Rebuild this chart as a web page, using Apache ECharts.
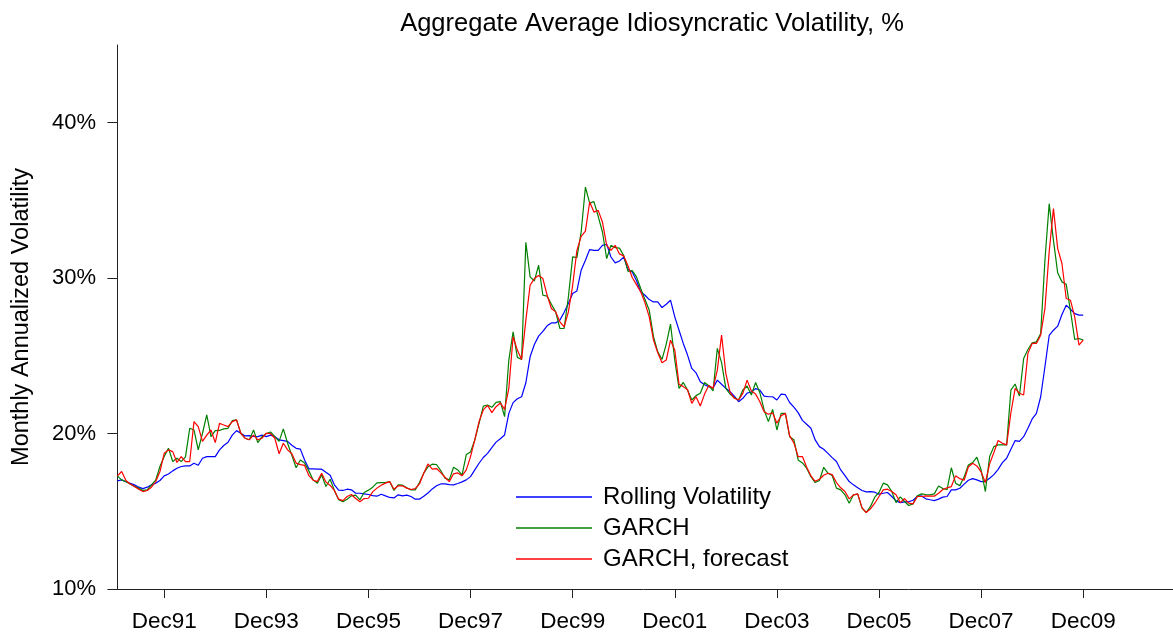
<!DOCTYPE html>
<html>
<head>
<meta charset="utf-8">
<script src="https://cdn.jsdelivr.net/npm/echarts@6/dist/echarts.min.js"></script>
<style>
  html, body { margin: 0; padding: 0; background: #fff; }
  #chart { width: 1173px; height: 633px; }
</style>
</head>
<body>
<div id="chart"></div>
<script>
// Monthly observations, Jan 1991 .. Dec 2009 (index 0 = Jan 1991)
const rollingVolatility = [
  16.96,17.02,16.9,16.8,16.7,16.55,16.46,16.55,16.7,16.8,16.98,17.28,
  17.4,17.6,17.77,17.88,17.92,17.92,18.09,17.96,18.41,18.52,18.52,18.52,
  18.95,19.23,19.44,19.9,20.19,20.02,19.85,19.87,19.81,19.8,19.9,19.8,
  19.9,19.8,19.6,19.55,19.5,19.25,19.05,19.0,18.3,17.73,17.73,17.71,
  17.71,17.51,17.32,16.7,16.36,16.34,16.42,16.38,16.16,16.16,16.12,16.08,
  16.01,15.97,16.1,15.99,15.89,15.86,16.06,15.99,16.04,15.95,15.78,15.78,
  15.97,16.18,16.44,16.64,16.76,16.76,16.72,16.7,16.79,16.89,17.02,17.23,
  17.66,18.09,18.46,18.73,19.1,19.45,19.67,19.91,21.3,21.99,22.24,22.37,
  23.27,24.94,25.73,26.27,26.57,26.93,27.12,27.12,27.3,27.81,28.37,29.01,
  29.18,30.51,31.15,31.84,31.79,31.79,32.11,32.18,31.36,30.98,31.1,31.35,
  30.55,30.4,29.85,29.12,28.9,28.62,28.47,28.47,28.11,28.32,28.58,27.51,
  26.65,25.8,25.05,24.19,23.91,23.34,23.14,23.02,22.93,23.44,23.17,22.91,
  22.69,22.41,22.05,22.27,22.61,22.67,22.89,22.8,22.41,22.37,22.37,22.16,
  22.54,22.5,22.0,21.7,21.35,20.85,20.6,20.34,19.59,19.16,18.99,18.73,
  18.45,18.2,17.66,17.3,16.91,16.7,16.51,16.34,16.25,16.27,16.23,16.1,
  16.16,16.21,15.95,15.67,15.56,15.61,15.61,15.71,15.95,15.99,15.8,15.74,
  15.69,15.78,15.91,15.95,16.38,16.38,16.48,16.75,17.0,17.1,17.02,16.91,
  16.93,17.13,17.36,17.7,18.13,18.41,18.99,19.55,19.5,19.8,20.34,20.94,
  21.3,22.37,24.3,26.31,26.65,26.91,27.66,28.26,28.0,27.72,27.62,27.62
];
const garch = [
  17.28,17.02,16.9,16.76,16.6,16.49,16.34,16.38,16.7,17.0,17.88,18.52,
  19.06,18.2,18.41,18.2,18.5,20.34,20.23,18.95,20.02,21.2,19.8,20.19,
  20.2,20.3,20.34,20.83,20.88,20.02,19.7,19.6,20.23,19.42,19.8,20.0,
  20.1,19.8,19.5,20.3,19.38,18.6,17.8,18.3,18.1,17.6,17.02,16.81,
  17.34,16.59,17.06,16.34,15.74,15.61,15.78,15.99,16.04,15.74,16.21,16.36,
  16.55,16.83,16.85,16.85,16.91,16.34,16.7,16.68,16.51,16.38,16.38,16.85,
  17.45,17.86,18.03,18.01,17.62,17.13,17.02,17.83,17.66,17.32,18.65,18.82,
  19.59,20.66,21.77,21.84,21.69,22.01,22.05,21.09,24.73,26.55,24.9,24.77,
  32.3,30.08,29.82,30.83,28.9,28.84,28.32,27.83,26.76,26.76,28.8,31.37,
  31.32,32.97,35.86,34.83,34.92,33.98,32.97,31.26,32.11,31.96,31.93,31.46,
  30.44,30.48,30.08,29.33,28.62,27.94,26.23,25.26,24.77,25.76,27.04,24.73,
  22.91,23.29,22.8,22.16,22.44,22.59,23.29,23.08,22.74,25.48,24.56,22.91,
  22.54,22.31,22.16,22.8,23.06,22.48,23.29,22.63,21.52,20.77,21.56,20.23,
  21.3,21.3,19.8,19.6,18.3,18.11,17.77,17.23,16.85,16.98,17.83,17.45,
  17.3,16.49,16.38,16.06,15.52,16.06,16.1,15.2,14.92,15.31,15.91,16.21,
  16.81,16.7,16.27,15.56,15.93,15.63,15.37,15.48,15.99,16.12,16.08,16.06,
  16.12,16.63,16.46,16.4,17.8,16.81,16.65,17.2,17.98,18.13,18.48,17.66,
  16.27,18.52,19.16,19.27,19.27,19.27,22.8,23.19,22.41,24.83,25.41,25.84,
  25.9,26.44,31.15,34.79,32.43,30.34,29.76,29.61,27.9,26.05,26.12,26.01
];
const garchForecast = [
  17.28,17.56,16.98,16.76,16.6,16.42,16.27,16.34,16.55,16.9,17.56,18.73,
  18.95,18.84,18.14,18.52,18.2,18.2,20.77,20.45,19.5,19.9,20.23,19.42,
  20.66,20.55,20.45,20.77,20.88,20.02,19.7,19.6,19.9,19.6,19.7,20.02,
  20.0,19.7,18.7,19.38,18.95,18.7,18.1,18.0,17.95,17.3,17.0,16.91,
  17.45,16.89,16.66,16.34,15.78,15.69,15.95,16.08,15.82,15.61,15.82,15.84,
  16.25,16.49,16.68,16.81,16.91,16.42,16.64,16.64,16.49,16.4,16.46,16.76,
  17.45,18.05,17.71,17.75,17.49,17.19,16.91,17.41,17.47,17.28,17.66,18.52,
  19.59,20.77,21.52,21.82,21.35,21.73,21.97,21.56,22.91,26.23,25.37,24.77,
  27.3,29.54,29.97,30.17,29.97,28.9,28.05,27.83,27.19,26.87,27.83,29.54,
  31.79,32.69,33.03,34.9,34.25,34.36,33.61,32.11,31.79,32.11,31.56,31.43,
  30.8,30.04,29.58,29.12,28.41,27.51,26.01,25.2,24.56,24.73,26.01,25.37,
  23.17,23.02,22.82,21.94,22.37,21.77,22.54,23.1,22.91,24.08,26.33,23.87,
  22.65,22.27,22.16,22.59,23.44,22.74,22.54,22.05,21.41,21.24,21.34,20.66,
  21.15,21.3,19.85,19.4,18.52,18.52,17.83,17.28,16.93,17.06,17.32,17.45,
  17.36,16.85,16.51,16.27,15.8,16.06,16.12,15.24,14.92,15.16,15.52,15.95,
  16.38,16.42,16.27,16.06,15.56,15.82,15.52,15.48,15.95,15.95,15.99,15.97,
  15.97,16.16,16.4,16.51,16.59,17.28,17.1,17.0,17.85,18.09,17.92,17.53,
  16.85,18.05,18.78,19.55,19.37,19.27,21.34,22.91,22.59,22.48,25.16,25.8,
  25.8,26.33,28.05,31.69,34.47,31.9,30.94,28.69,28.58,27.51,25.69,26.01
];
const tickLabels = ['Dec91','Dec93','Dec95','Dec97','Dec99','Dec01','Dec03','Dec05','Dec07','Dec09'];
const tickMonths = [11,35,59,83,107,131,155,179,203,227];
const yTicks = [10,20,30,40];
const seriesNames = ['Rolling Volatility','GARCH','GARCH, forecast'];

const FONT = "'Liberation Sans', Arial, Helvetica, sans-serif";
const toPairs = arr => arr.map((v, i) => [i, v]);

const chart = echarts.init(document.getElementById('chart'), null, { renderer: 'canvas' });
chart.setOption({
  animation: false,
  backgroundColor: '#ffffff',
  title: {
    text: 'Aggregate Average Idiosyncratic Volatility, %',
    left: 647,
    top: 6,
    textAlign: 'center',
    textStyle: { fontFamily: FONT, fontSize: 25.5, fontWeight: 'normal', color: '#000' }
  },
  legend: {
    orient: 'vertical',
    left: 511,
    top: 480,
    itemWidth: 76,
    itemHeight: 1.5,
    itemGap: 7,
    icon: 'rect',
    data: seriesNames,
    textStyle: { fontFamily: FONT, fontSize: 24, color: '#000', lineHeight: 24, padding: [0, 0, 0, 6] }
  },
  grid: { left: 114, right: 0, top: 45, bottom: 44, containLabel: false },
  xAxis: {
    type: 'value',
    min: -0.8,
    max: 248.1,
    splitLine: { show: false },
    axisLine: { show: true, lineStyle: { color: '#222', width: 1 } },
    axisTick: { show: true, length: 9, inside: false, customValues: tickMonths, lineStyle: { color: '#222' } },
    axisLabel: {
      customValues: tickMonths,
      margin: 21,
      fontFamily: FONT, fontSize: 22.5, color: '#000',
      formatter: v => tickLabels[tickMonths.indexOf(Math.round(v))] || ''
    }
  },
  yAxis: {
    type: 'value',
    min: 10,
    max: 45,
    name: 'Monthly Annualized Volatility',
    nameLocation: 'middle',
    nameGap: 80,
    nameTextStyle: { fontFamily: FONT, fontSize: 23.5, color: '#000' },
    splitLine: { show: false },
    axisLine: { show: true, lineStyle: { color: '#222', width: 1 } },
    axisTick: { show: true, length: 10, customValues: yTicks, lineStyle: { color: '#222' } },
    axisLabel: {
      customValues: yTicks,
      margin: 18,
      fontFamily: FONT, fontSize: 22, color: '#000',
      formatter: v => v + '%'
    }
  },
  series: [
    { name: seriesNames[0], type: 'line', data: toPairs(rollingVolatility), symbol: 'none',
      itemStyle: { color: '#0000ff' }, lineStyle: { color: '#0000ff', width: 1.2 } },
    { name: seriesNames[1], type: 'line', data: toPairs(garch), symbol: 'none',
      itemStyle: { color: '#008000' }, lineStyle: { color: '#008000', width: 1.2 } },
    { name: seriesNames[2], type: 'line', data: toPairs(garchForecast), symbol: 'none',
      itemStyle: { color: '#ff0000' }, lineStyle: { color: '#ff0000', width: 1.2 } }
  ]
});
</script>
</body>
</html>
